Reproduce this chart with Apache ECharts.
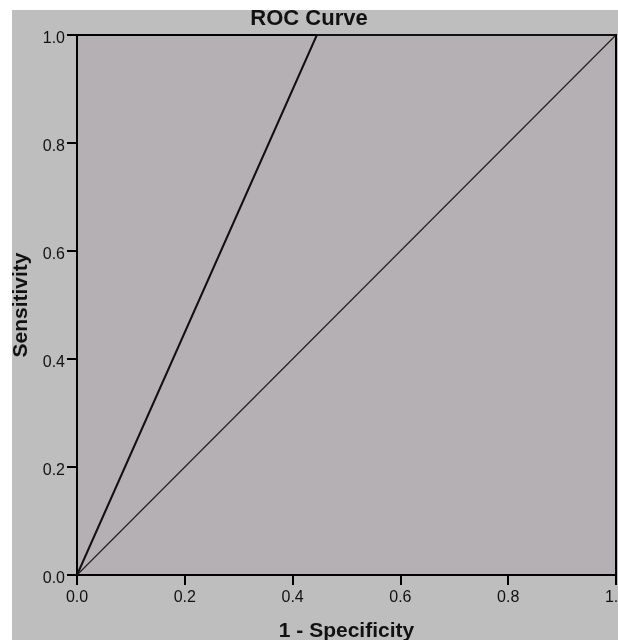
<!DOCTYPE html>
<html>
<head>
<meta charset="utf-8">
<script src="https://cdn.jsdelivr.net/npm/echarts@6/dist/echarts.min.js"></script>
<style>
  html, body { margin: 0; padding: 0; background: #fff; }
  #chart { width: 618px; height: 640px; }
</style>
</head>
<body>
<div id="chart"></div>
<script>
// ROC curve points (1 - specificity, sensitivity)
var rocFpr = [0, 0.445, 1];
var rocTpr = [0, 1, 1];
// reference diagonal
var refX = [0, 1];
var refY = [0, 1];

function pairs(xs, ys) {
    var out = [];
    for (var i = 0; i < xs.length; i++) out.push([xs[i], ys[i]]);
    return out;
}

var myChart = echarts.init(document.getElementById("chart"));
var font = "'Liberation Sans', Arial, sans-serif";

var option = {
    animation: false,
    backgroundColor: '#ffffff',
    graphic: [{
        type: 'rect',
        z: -10,
        shape: { x: 12, y: 10, width: 606, height: 630 },
        style: { fill: '#bebebe' }
    }],
    title: {
        text: 'ROC Curve',
        left: 'center',
        top: 8,
        padding: 0,
        textStyle: { fontFamily: font, fontSize: 22, fontWeight: 'bold', color: '#111' }
    },
    grid: {
        left: 77, top: 35, right: 2, bottom: 65,
        outerBoundsMode: 'none',
        containLabel: false,
        show: true,
        backgroundColor: '#b4b0b3',
        borderColor: '#000',
        borderWidth: 2
    },
    xAxis: {
        type: 'value',
        min: 0, max: 1, interval: 0.2,
        name: '1 - Specificity',
        nameLocation: 'middle',
        nameGap: 46,
        nameTextStyle: { fontFamily: font, fontSize: 21, fontWeight: 'bold', color: '#111' },
        axisLine: { show: true, lineStyle: { color: '#000', width: 2 } },
        axisTick: { show: true, length: 10, inside: false, lineStyle: { color: '#000', width: 2 } },
        axisLabel: {
            margin: 15,
            fontFamily: font, fontSize: 16, color: '#111',
            showMaxLabel: true,
            formatter: function (v) { return v.toFixed(1); }
        },
        splitLine: { show: false }
    },
    yAxis: {
        type: 'value',
        min: 0, max: 1, interval: 0.2,
        name: 'Sensitivity',
        nameLocation: 'middle',
        nameGap: 45,
        nameRotate: 90,
        nameTextStyle: { fontFamily: font, fontSize: 21, fontWeight: 'bold', color: '#111' },
        axisLine: { show: true, lineStyle: { color: '#000', width: 2 } },
        axisTick: { show: true, length: 10, inside: false, lineStyle: { color: '#000', width: 2 } },
        axisLabel: {
            margin: 12,
            fontFamily: font, fontSize: 16, color: '#111',
            formatter: function (v) { return '{v|' + v.toFixed(1) + '}'; },
            rich: { v: { fontFamily: font, fontSize: 16, color: '#111', padding: [8, 0, 0, 0] } }
        },
        splitLine: { show: false }
    },
    series: [{
        name: 'ROC',
        type: 'line',
        data: pairs(rocFpr, rocTpr),
        symbol: 'none',
        lineStyle: { color: '#111', width: 2 },
        z: 3
    }, {
        name: 'Reference',
        type: 'line',
        data: pairs(refX, refY),
        symbol: 'none',
        lineStyle: { color: '#222', width: 1.2 },
        z: 2
    }]
};
myChart.setOption(option);
</script>
</body>
</html>
